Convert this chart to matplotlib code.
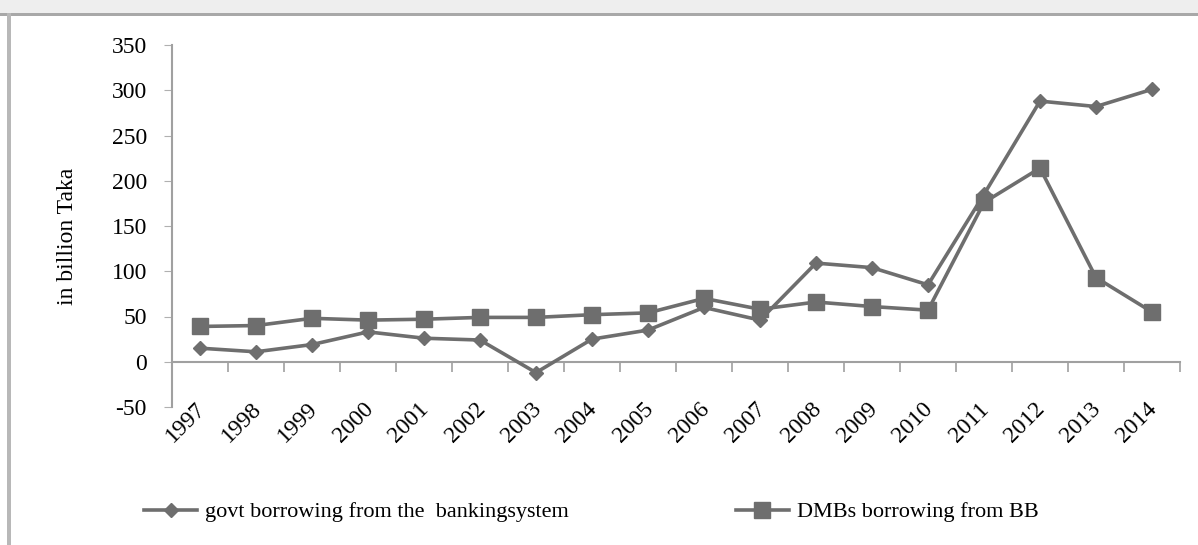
import matplotlib.pyplot as plt
from matplotlib.patches import Rectangle
from matplotlib.transforms import ScaledTranslation

years = [str(y) for y in range(1997, 2015)]
govt = [15, 11, 19, 33, 26, 24, -12, 25, 35, 60, 46, 109, 104, 85, 185, 288, 282, 301]
dmbs = [39, 40, 48, 46, 47, 49, 49, 52, 54, 70, 58, 66, 61, 57, 176, 214, 93, 55]

plt.rcParams["font.family"] = ["Liberation Serif", "DejaVu Serif"]
plt.rcParams["axes.unicode_minus"] = False

W, H = 1198, 545
fig = plt.figure(figsize=(W / 100, H / 100), dpi=100)
fig.patch.set_facecolor("white")

# outer frame bits: light band on top, gray border top and left
fig.patches.append(Rectangle((0, 1 - 13 / H), 1, 13 / H, transform=fig.transFigure,
                             facecolor="#eeeeee", edgecolor="none", zorder=0))
fig.patches.append(Rectangle((0, 1 - 16 / H), 1, 3 / H, transform=fig.transFigure,
                             facecolor="#a8a8a8", edgecolor="none", zorder=0))
fig.patches.append(Rectangle((7 / W, 0), 4 / W, 1 - 13 / H, transform=fig.transFigure,
                             facecolor="#b8b8b8", edgecolor="none", zorder=0))

ax = fig.add_axes([172 / W, 1 - 407 / H, 1008 / W, 362 / H])
ax.set_facecolor("none")

x = list(range(len(years)))
line_c = "#6e6e6e"
ax.plot(x, govt, color=line_c, lw=2.6, marker="D", ms=7, mfc=line_c, mec=line_c,
        label="govt borrowing from the  bankingsystem", zorder=3)
ax.plot(x, dmbs, color=line_c, lw=2.6, marker="s", ms=11, mfc=line_c, mec=line_c,
        label="DMBs borrowing from BB", zorder=3)

ax.set_xlim(-0.5, len(years) - 0.5)
ax.set_ylim(-50, 350)
ax.set_yticks(range(-50, 351, 50))
ax.tick_params(axis="y", labelsize=17, length=6, color="#b0b0b0", pad=12)

for s in ["top", "right", "bottom"]:
    ax.spines[s].set_visible(False)
ax.spines["left"].set_color("#a0a0a0")
ax.spines["left"].set_linewidth(1.5)

ax.set_xticks(x)
ax.set_xticklabels(years, rotation=45, ha="right", rotation_mode="anchor", fontsize=17)
ax.tick_params(axis="x", length=0, pad=-6)
for lab in ax.get_xticklabels():
    lab.set_transform(lab.get_transform() + ScaledTranslation(-4 / 72, 0, fig.dpi_scale_trans))

# category axis drawn at zero, ticks between categories
zero_ax = ax.secondary_xaxis(50 / 400)
zero_ax.spines["bottom"].set_color("#a0a0a0")
zero_ax.spines["bottom"].set_linewidth(1.5)
zero_ax.set_xticks([i - 0.5 for i in range(len(years) + 1)])
zero_ax.set_xticklabels([])
zero_ax.tick_params(axis="x", length=7, color="#a0a0a0", width=1.2)

ax.set_ylabel("in billion Taka", fontsize=17)
ax.yaxis.set_label_coords(-(172 - 78) / 1008, 1 - (236 - 45) / 362)

fig.legend(loc="center left", bbox_to_anchor=(124 / W, 1 - 512 / H), ncol=2, frameon=False,
           fontsize=16, handlelength=2.4, columnspacing=7.5, handletextpad=0.35)

fig.savefig("out.png", dpi=100)
